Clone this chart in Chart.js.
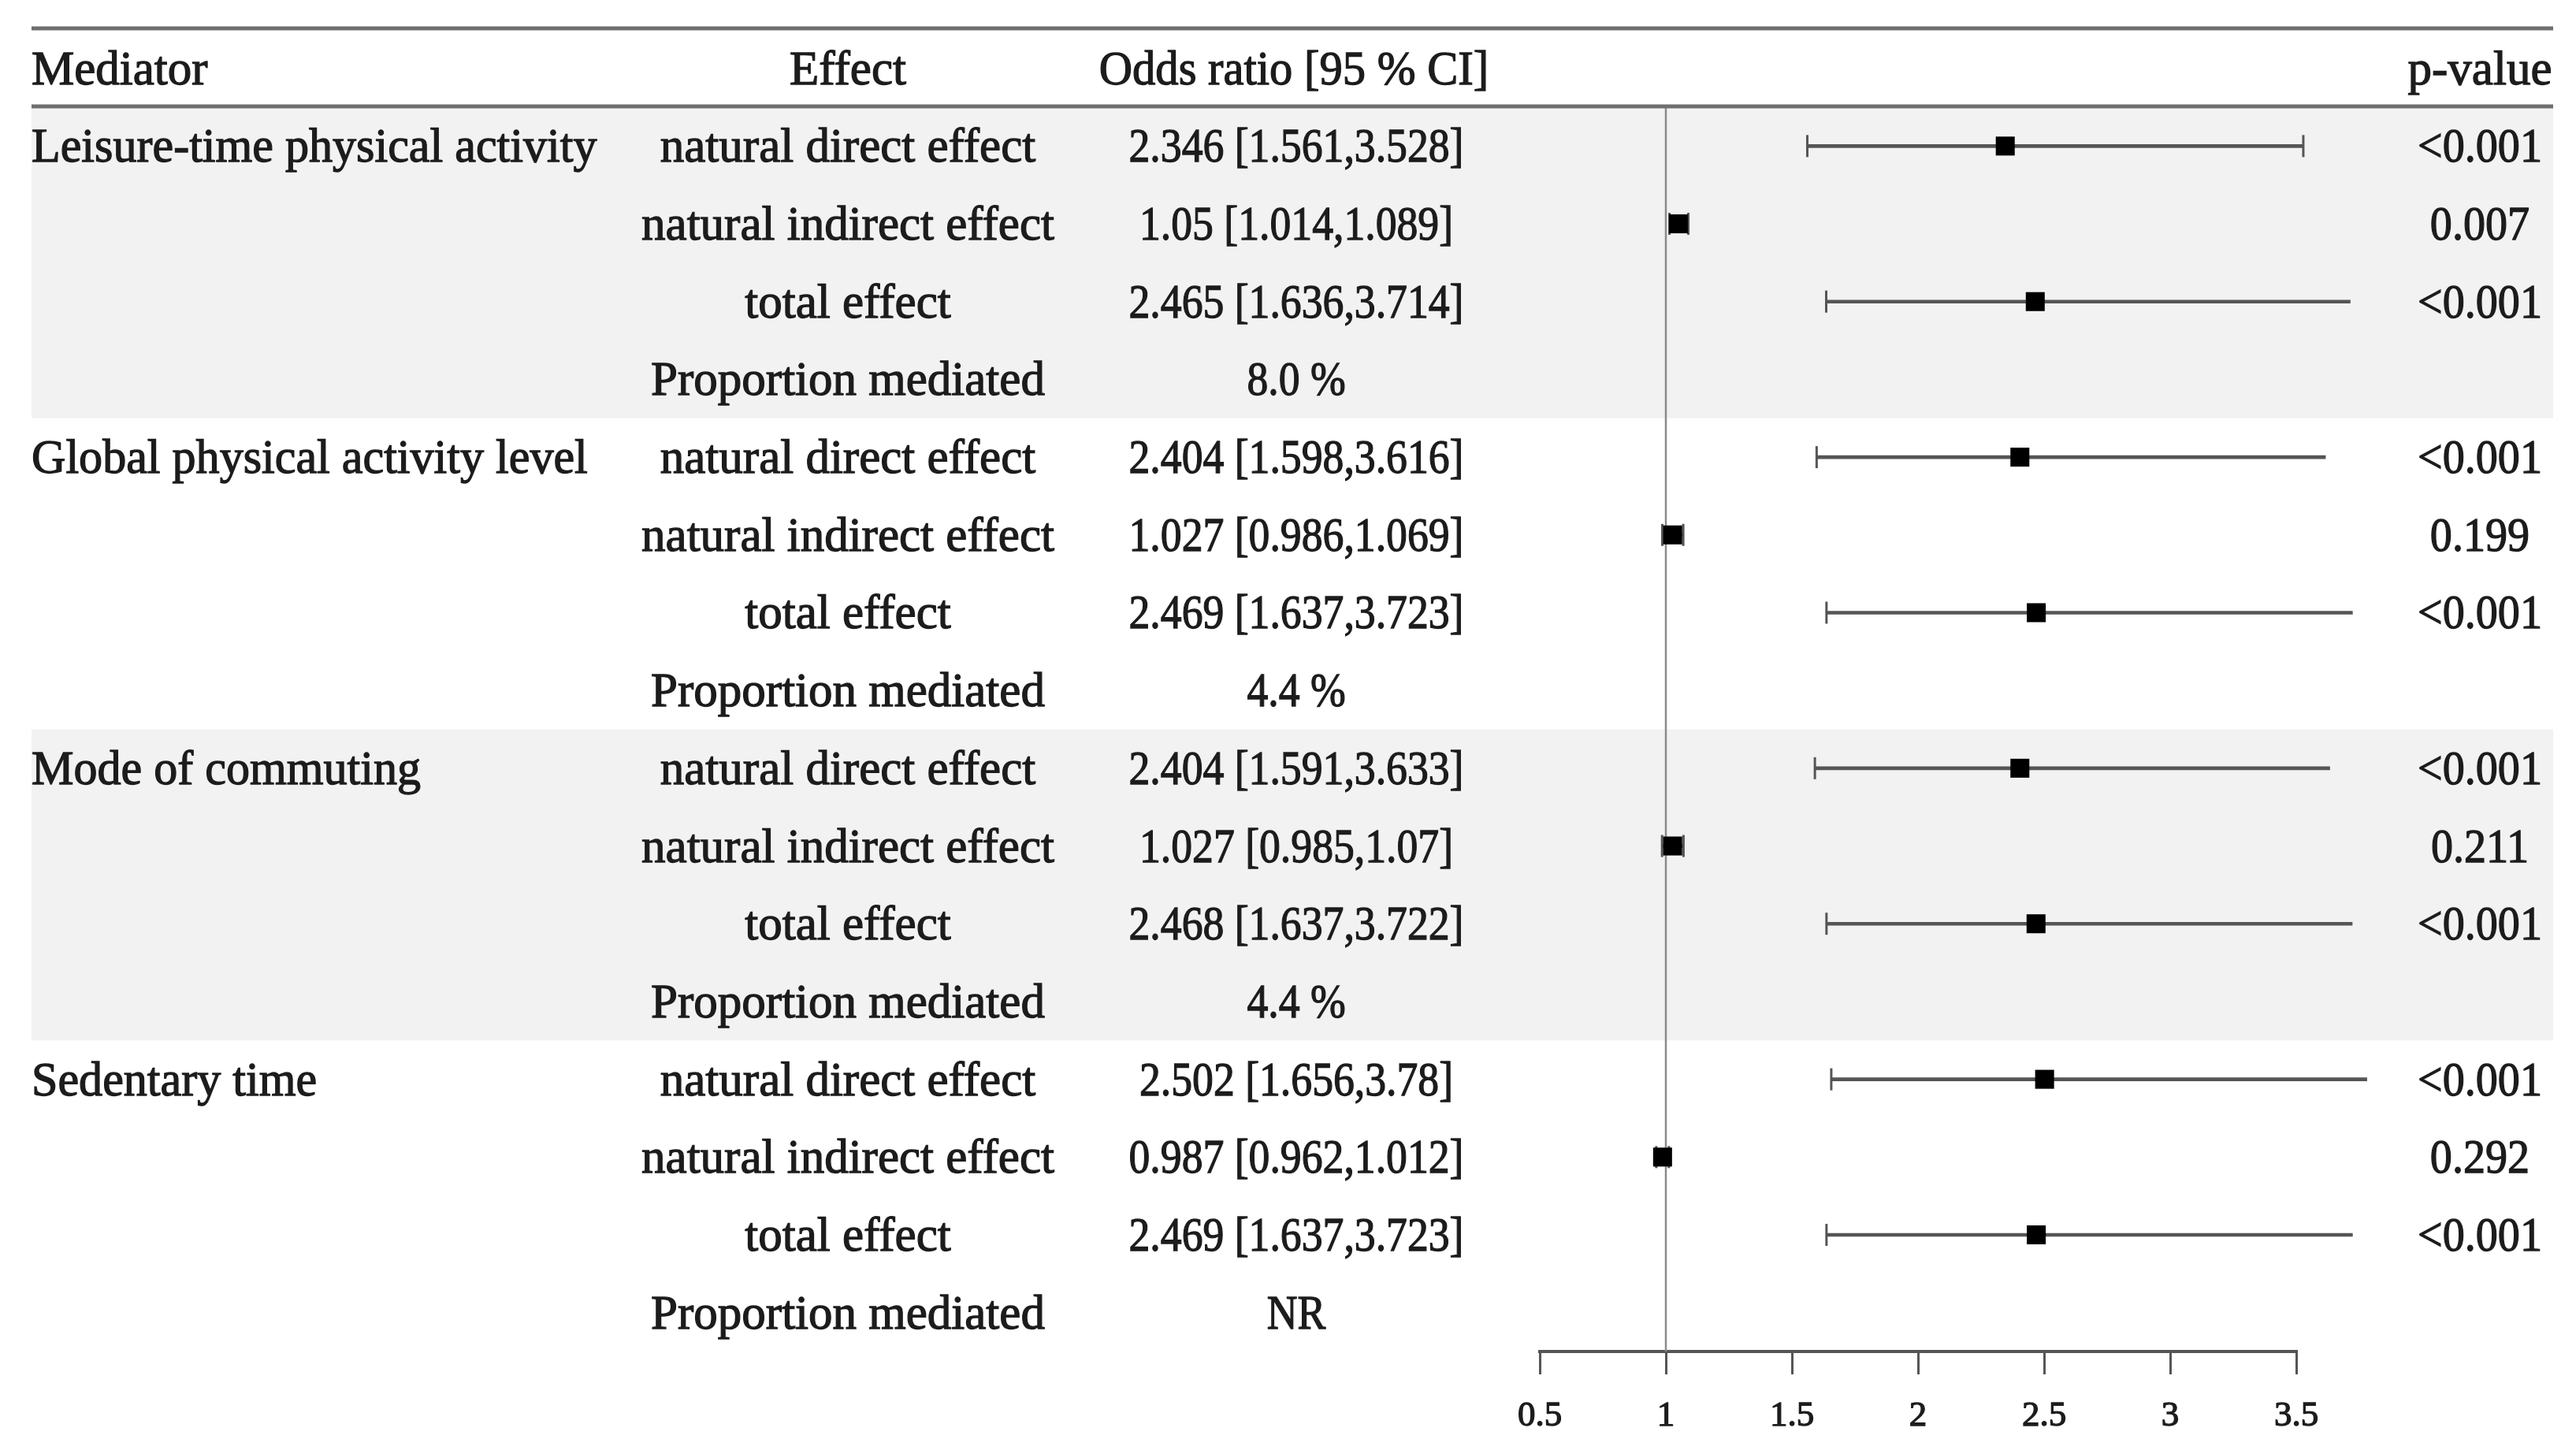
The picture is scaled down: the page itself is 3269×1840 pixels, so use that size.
<!DOCTYPE html>
<html>
<head>
<meta charset="utf-8">
<script src="https://cdn.jsdelivr.net/npm/chart.js@4.4.1/dist/chart.umd.min.js"></script>
<style>
html,body{margin:0;padding:0;background:#fff;}
canvas{display:block;}
</style>
</head>
<body>
<canvas id="forest" width="3269" height="1840"></canvas>
<script>
var mediators=["Leisure-time physical activity","Global physical activity level","Mode of commuting","Sedentary time"];
var effects=["natural direct effect","natural indirect effect","total effect","Proportion mediated"];

// one value per row, 4 rows per mediator
var oddsRatio=[2.346,1.05,2.465,null, 2.404,1.027,2.469,null, 2.404,1.027,2.468,null, 2.502,0.987,2.469,null];
var ciLow=[1.561,1.014,1.636,null, 1.598,0.986,1.637,null, 1.591,0.985,1.637,null, 1.656,0.962,1.637,null];
var ciHigh=[3.528,1.089,3.714,null, 3.616,1.069,3.723,null, 3.633,1.07,3.722,null, 3.78,1.012,3.723,null];
var orText=["2.346 [1.561,3.528]","1.05 [1.014,1.089]","2.465 [1.636,3.714]","8.0 %",
            "2.404 [1.598,3.616]","1.027 [0.986,1.069]","2.469 [1.637,3.723]","4.4 %",
            "2.404 [1.591,3.633]","1.027 [0.985,1.07]","2.468 [1.637,3.722]","4.4 %",
            "2.502 [1.656,3.78]","0.987 [0.962,1.012]","2.469 [1.637,3.723]","NR"];
var pValues=["<0.001","0.007","<0.001","", "<0.001","0.199","<0.001","",
             "<0.001","0.211","<0.001","", "<0.001","0.292","<0.001",""];
var headers=["Mediator","Effect","Odds ratio [95 % CI]","p-value"];
var xTicks=[0.5,1,1.5,2,2.5,3,3.5];

var rows=[];
mediators.forEach(function(m){
	effects.forEach(function(e){ rows.push(e); });
});

var FONT="61px 'Liberation Serif'";
var TEXT="#1c1c1c";

// draw text a bit heavier, optionally squeezed horizontally
function txt(ctx,s,x,y,sx){
	ctx.save();
	ctx.translate(x,y);
	ctx.scale(sx||1,1);
	ctx.fillText(s,0,0);
	ctx.strokeText(s,0,0);
	ctx.restore();
}

var tablePlugin={
	id:"table",
	beforeDraw:function(chart){
		var ctx=chart.ctx, y=chart.scales.y;
		var rowH=(y.bottom-y.top)/rows.length;
		ctx.save();
		ctx.fillStyle="#fff";
		ctx.fillRect(0,0,chart.width,chart.height);
		ctx.fillStyle="#f2f2f2";
		[0,2].forEach(function(g){
			var top=y.getPixelForValue(g*4)-rowH/2;
			ctx.fillRect(40,top,3200,rowH*4);
		});
		ctx.restore();
	},
	beforeDatasetsDraw:function(chart){
		var ctx=chart.ctx, x=chart.scales.x;
		var px=x.getPixelForValue(1);
		ctx.save();
		ctx.strokeStyle="#8a8a8a";
		ctx.lineWidth=2.5;
		ctx.beginPath();
		ctx.moveTo(px,135);
		ctx.lineTo(px,chart.chartArea.bottom);
		ctx.stroke();
		ctx.restore();
	},
	afterDraw:function(chart){
		var ctx=chart.ctx, y=chart.scales.y;
		ctx.save();
		// rules
		ctx.strokeStyle="#6e6e6e";
		ctx.lineWidth=5;
		ctx.beginPath();
		ctx.moveTo(40,36); ctx.lineTo(3240,36);
		ctx.moveTo(40,135); ctx.lineTo(3240,135);
		ctx.stroke();

		ctx.font=FONT;
		ctx.fillStyle=TEXT;
		ctx.strokeStyle=TEXT;
		ctx.lineWidth=1.3;
		ctx.textBaseline="middle";
		// header
		ctx.textAlign="left"; txt(ctx,headers[0],40,91);
		ctx.textAlign="center"; txt(ctx,headers[1],1076,91);
		txt(ctx,headers[2],1642,91,0.96);
		txt(ctx,headers[3],3147,91);

		rows.forEach(function(r,i){
			var py=y.getPixelForValue(i)+4;
			if(i%4===0){
				ctx.textAlign="left";
				txt(ctx,mediators[i/4],40,py,0.985);
			}
			ctx.textAlign="center";
			txt(ctx,r,1076,py);
			txt(ctx,orText[i],1645,py,0.88);
			if(pValues[i]) txt(ctx,pValues[i],3147,py,0.92);
		});
		ctx.restore();
	}
};

var ctx=document.getElementById("forest").getContext("2d");

var chart=new Chart(ctx,{
	type:"bar",
	data:{
		labels:rows,
		datasets:[
		{
			type:"line",
			label:"odds ratio",
			data:oddsRatio,
			indexAxis:"y",
			showLine:false,
			pointStyle:"rect",
			pointRadius:17,
			pointBackgroundColor:"#000",
			pointBorderWidth:0,
			clip:false,
			order:0
		},
		{
			type:"line",
			label:"lower",
			data:ciLow,
			indexAxis:"y",
			showLine:false,
			pointStyle:"line",
			pointRotation:90,
			pointRadius:14,
			pointBorderColor:"#555",
			pointBorderWidth:3,
			clip:false,
			order:1
		},
		{
			type:"line",
			label:"upper",
			data:ciHigh,
			indexAxis:"y",
			showLine:false,
			pointStyle:"line",
			pointRotation:90,
			pointRadius:14,
			pointBorderColor:"#555",
			pointBorderWidth:3,
			clip:false,
			order:1
		},
		{
			label:"95% CI",
			data:ciLow.map(function(v,i){ return v===null?null:[v,ciHigh[i]]; }),
			backgroundColor:"#555",
			borderWidth:0,
			barThickness:4,
			clip:false,
			order:2
		}
		]
	},
	options:{
		indexAxis:"y",
		responsive:false,
		animation:false,
		events:[],
		layout:{padding:{left:1954,right:355,top:136,bottom:0}},
		plugins:{legend:{display:false},tooltip:{enabled:false}},
		scales:{
			x:{
				type:"linear",
				position:"bottom",
				min:0.5,
				max:3.5,
				afterBuildTicks:function(s){ s.ticks=xTicks.map(function(v){ return {value:v}; }); },
				afterFit:function(s){ s.height=125; },
				ticks:{
					callback:function(v){ return String(v); },
					font:{family:"Liberation Serif",size:45},
					color:TEXT,
					textStrokeColor:TEXT,
					textStrokeWidth:1.3,
					padding:26,
					maxRotation:0,
					autoSkip:false
				},
				grid:{drawOnChartArea:false,drawTicks:true,tickLength:29,tickWidth:3,tickColor:"#555",color:"#555",lineWidth:3},
				border:{display:true,color:"#555",width:4}
			},
			y:{
				type:"category",
				display:false,
				offset:true,
				grid:{display:false}
			}
		}
	},
	plugins:[tablePlugin]
});
</script>
</body>
</html>
